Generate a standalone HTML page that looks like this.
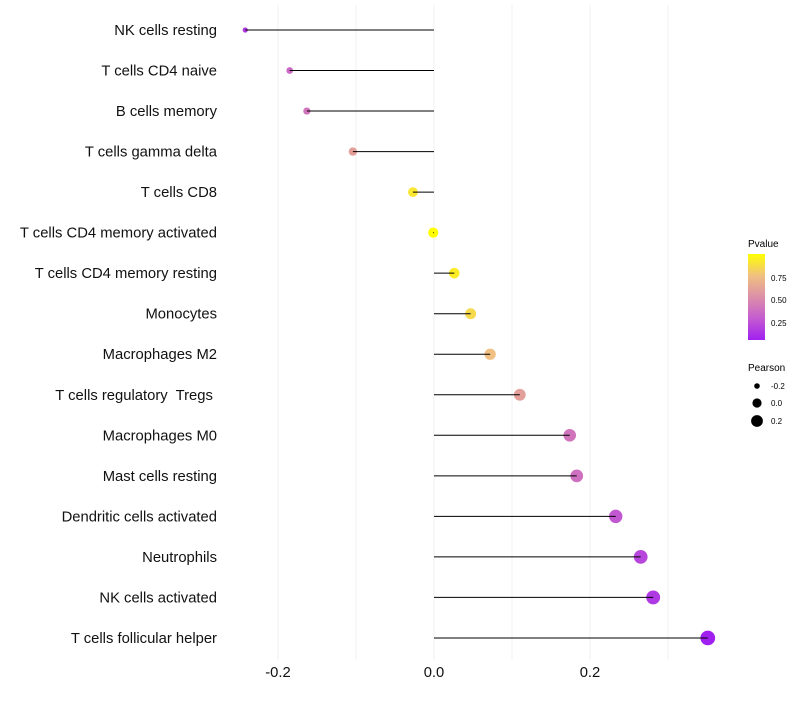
<!DOCTYPE html>
<html><head><meta charset="utf-8"><style>
body{margin:0;background:#fff;}
svg text{font-family:"Liberation Sans",sans-serif;white-space:pre;}
</style></head><body>
<svg id="chart" width="800" height="700" xmlns="http://www.w3.org/2000/svg">
<defs><linearGradient id="pg" x1="0" y1="1" x2="0" y2="0">
<stop offset="0" stop-color="#a020f0"/><stop offset="0.25" stop-color="#c45bd0"/><stop offset="0.5" stop-color="#dc8fa8"/><stop offset="0.75" stop-color="#f0c080"/><stop offset="1" stop-color="#ffff00"/>
</linearGradient></defs>
<g id="grid"></g>
<g id="marks"></g>
<g id="labels"></g>
<g id="xt"></g>
<g>
<text x="748" y="247" font-size="10">Pvalue</text>
<rect x="748" y="254" width="17" height="86" fill="url(#pg)"/>
<text x="771" y="281" font-size="8">0.75</text>
<text x="771" y="303" font-size="8">0.50</text>
<text x="771" y="326" font-size="8">0.25</text>
</g>
<g>
<text x="748" y="371" font-size="10">Pearson</text>
<circle cx="757" cy="386" r="2.8"/>
<circle cx="757" cy="403" r="4.6"/>
<circle cx="757" cy="421" r="5.9"/>
<text x="771" y="389" font-size="8">-0.2</text>
<text x="771" y="406" font-size="8">0.0</text>
<text x="771" y="424" font-size="8">0.2</text>
</g>
</svg>
<script>
const categories=["NK cells resting","T cells CD4 naive","B cells memory","T cells gamma delta","T cells CD8","T cells CD4 memory activated","T cells CD4 memory resting","Monocytes","Macrophages M2","T cells regulatory  Tregs ","Macrophages M0","Mast cells resting","Dendritic cells activated","Neutrophils","NK cells activated","T cells follicular helper"];
const pearson=[-0.242,-0.185,-0.163,-0.104,-0.027,-0.001,0.026,0.047,0.072,0.110,0.174,0.183,0.233,0.265,0.281,0.351];
const pvalues=[0.15,0.35,0.4,0.6,0.9,0.99,0.92,0.85,0.75,0.6,0.4,0.38,0.27,0.2,0.15,0.05];
const gridValues=[-0.2,-0.1,0,0.1,0.2,0.3];
const tickValues=[-0.2,0,0.2];
const tickLabels=["-0.2","0.0","0.2"];
const NS="http://www.w3.org/2000/svg";
const xs=v=>434+v*780;
const ys=i=>30+i*40.53;
const rs=v=>Math.sqrt(Math.max(2.5,26+80*v));
const stops=[[0,[160,32,240]],[0.25,[196,91,208]],[0.5,[220,143,168]],[0.75,[240,192,128]],[1,[255,255,0]]];
function col(p){const t=Math.min(1,Math.max(0,(p-0.05)/0.94));for(let k=1;k<stops.length;k++){if(t<=stops[k][0]){const a=stops[k-1],b=stops[k],f=(t-a[0])/(b[0]-a[0]);return "rgb("+a[1].map((c,j)=>Math.round(c+(b[1][j]-c)*f)).join(",")+")";}}return "rgb(255,255,0)";}
function mk(tag,attrs,parent){const e=document.createElementNS(NS,tag);for(const k in attrs)e.setAttribute(k,attrs[k]);document.getElementById(parent).appendChild(e);return e;}
gridValues.forEach(v=>{const l=mk("line",{x1:xs(v),x2:xs(v),y1:5,y2:660,stroke:"#f0f0f0","stroke-width":1},"grid");

});
categories.forEach((c,i)=>{
const y=ys(i);
const p=mk("circle",{cx:xs(pearson[i]),cy:y,r:rs(pearson[i]),fill:col(pvalues[i])},"marks");


const l=mk("line",{x1:xs(pearson[i]),x2:xs(0),y1:y,y2:y,stroke:"#000","stroke-width":1},"marks");


const t=mk("text",{x:217,y:y+5,"text-anchor":"end","font-size":14.8,fill:"#111"},"labels");
t.textContent=c;


});
tickValues.forEach((v,i)=>{const t=mk("text",{x:xs(v),y:677,"text-anchor":"middle","font-size":14.8,fill:"#111"},"xt");
t.textContent=tickLabels[i];

});
</script>
</body></html>
